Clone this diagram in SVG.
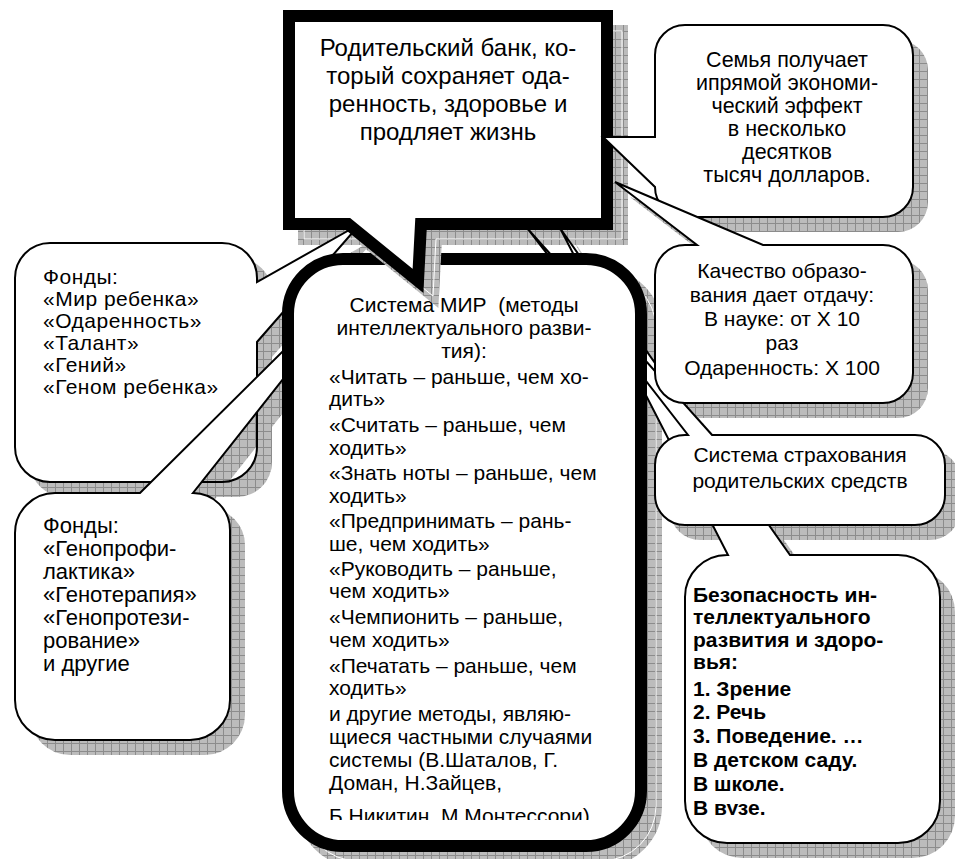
<svg xmlns="http://www.w3.org/2000/svg" width="955" height="859" viewBox="0 0 955 859">
<style>
.fw{fill:#fff;stroke:none}
.st{fill:none;stroke:#000;stroke-width:2}
.thin{fill:#fff;stroke:#000;stroke-width:2;stroke-linejoin:miter}
.thick{fill:#fff;stroke:#000;stroke-width:12;stroke-linejoin:miter}
.shd{fill:url(#sh);stroke:none}
.shdk{fill:url(#sh);stroke:url(#sh);stroke-width:12}
.wl{fill:none;stroke:#fff;stroke-width:1}
text{font-family:"Liberation Sans",Arial,sans-serif;font-size:21px;fill:#000}
.c{text-anchor:middle}
.b{font-weight:bold;font-size:21px}
.f1{font-size:21px;letter-spacing:0.5px}
.f22{font-size:22px}
.f215{font-size:21.5px}
.f24{font-size:24px}
</style>
<defs>
<pattern id="sh" width="8" height="8" patternUnits="userSpaceOnUse">
<rect width="8" height="8" fill="#bcbcbc"/>
<path d="M0 .5H8M.5 0V8" stroke="#8c8c8c" stroke-width="1"/>
</pattern>
<path id="pTop" d="M289,16 H607 V224 H421 L418,281 L348,224 H289 Z"/>
<rect id="pCen" x="288" y="259" width="353" height="587" rx="55"/>
<path id="pF1" d="M50,243 H222 A35,35 0 0 1 257,278 V282 L360,224 L257,342 V447 A35,35 0 0 1 222,482 H50 A35,35 0 0 1 15,447 V278 A35,35 0 0 1 50,243 Z"/>
<path id="pF2" d="M55,493 H140 L385,250 L193,493 A37,37 0 0 1 230,530 V700 A40,40 0 0 1 190,740 H55 A40,40 0 0 1 15,700 V533 A40,40 0 0 1 55,493 Z"/>
<path id="pBez" d="M727,555 H728 L560,228 L790,555 H898 A42,42 0 0 1 940,597 V801 A42,42 0 0 1 898,843 H727 A42,42 0 0 1 685,801 V597 A42,42 0 0 1 727,555 Z"/>
<path id="pSys" d="M685,435 H688 L527,228 L712,435 H915 A30,30 0 0 1 945,465 V495 A30,30 0 0 1 915,525 H685 A30,30 0 0 1 655,495 V465 A30,30 0 0 1 685,435 Z"/>
<path id="pKach" d="M685,245 H697 L615,182 L763,245 H883 A30,30 0 0 1 913,275 V373 A30,30 0 0 1 883,403 H685 A30,30 0 0 1 655,373 V275 A30,30 0 0 1 685,245 Z"/>
<path id="pSem" d="M685,25 H883 A30,30 0 0 1 913,55 V187 A30,30 0 0 1 883,217 H685 A30,30 0 0 1 655,187 L603,137 H655 V55 A30,30 0 0 1 685,25 Z"/>
<clipPath id="cbox"><rect x="282" y="253" width="365" height="599" rx="61"/></clipPath>
<clipPath id="ctext"><rect x="290" y="270" width="350" height="550"/></clipPath>
<clipPath id="btext"><rect x="686" y="570" width="250" height="245"/></clipPath>
</defs>
<rect width="955" height="859" fill="#fff"/>

<g id="shadows">
<use href="#pF1" transform="translate(15,15)" class="shd"/>
<use href="#pCen" transform="translate(15,15)" class="shdk"/>
<use href="#pCen" transform="translate(15,15)" class="wl"/>
<use href="#pTop" transform="translate(15,15)" class="shdk"/>
<use href="#pTop" transform="translate(15,15)" class="wl"/>
<use href="#pBez" transform="translate(15,15)" class="shd"/>
<use href="#pSys" transform="translate(15,15)" class="shd"/>
<use href="#pKach" transform="translate(15,15)" class="shd"/>
<use href="#pSem" transform="translate(15,15)" class="shd"/>
</g>

<g id="node-fondy1">
<use href="#pF1" class="fw"/>
<use href="#pF2" transform="translate(15,15)" class="shd"/>
<use href="#pF1" class="st"/>
<text class="f1" x="43" y="284">Фонды:</text>
<text class="f1" x="43" y="306">«Мир ребенка»</text>
<text class="f1" x="43" y="328">«Одаренность»</text>
<text class="f1" x="43" y="350">«Талант»</text>
<text class="f1" x="43" y="372">«Гений»</text>
<text class="f1" x="43" y="394">«Геном ребенка»</text>
</g>

<g id="node-fondy2">
<use href="#pF2" class="thin"/>
<text class="f22" x="43" y="533">Фонды:</text>
<text class="f22" x="43" y="556">«Генопрофи-</text>
<text class="f22" x="43" y="579">лактика»</text>
<text class="f22" x="43" y="602">«Генотерапия»</text>
<text class="f22" x="43" y="625">«Генопротези-</text>
<text class="f22" x="43" y="648">рование»</text>
<text class="f22" x="43" y="671">и другие</text>
</g>

<g id="node-bezopasnost">
<use href="#pBez" class="thin"/>
<g clip-path="url(#btext)">
<text class="b" x="693" y="602">Безопасность ин-</text>
<text class="b" x="693" y="624">теллектуального</text>
<text class="b" x="693" y="647">развития и здоро-</text>
<text class="b" x="693" y="669">вья:</text>
<text class="b" x="693" y="696">1. Зрение</text>
<text class="b" x="693" y="719">2. Речь</text>
<text class="b" x="693" y="743">3. Поведение. …</text>
<text class="b" x="693" y="767">В детском саду.</text>
<text class="b" x="693" y="791">В школе.</text>
<text class="b" x="693" y="815">В вузе.</text>
</g>
</g>

<g id="node-strahovanie">
<use href="#pSys" class="thin"/>
<text class="c" x="800" y="462">Система страхования</text>
<text class="c" x="800" y="488">родительских средств</text>
</g>

<g id="node-mir">
<use href="#pCen" class="thick"/>
<g clip-path="url(#ctext)">
<text class="c" x="464" y="312" xml:space="preserve">Система МИР  (методы</text>
<text class="c" x="464" y="335">интеллектуального разви-</text>
<text class="c" x="464" y="358">тия):</text>
<text x="329" y="384">«Читать – раньше, чем хо-</text>
<text x="329" y="406">дить»</text>
<text x="329" y="432">«Считать – раньше, чем</text>
<text x="329" y="455">ходить»</text>
<text x="329" y="480">«Знать ноты – раньше, чем</text>
<text x="329" y="503">ходить»</text>
<text x="329" y="528">«Предпринимать – рань-</text>
<text x="329" y="551">ше, чем ходить»</text>
<text x="329" y="576">«Руководить – раньше,</text>
<text x="329" y="598">чем ходить»</text>
<text x="329" y="624">«Чемпионить – раньше,</text>
<text x="329" y="647">чем ходить»</text>
<text x="329" y="673">«Печатать – раньше, чем</text>
<text x="329" y="695">ходить»</text>
<text x="329" y="721">и другие методы, являю-</text>
<text x="329" y="744">щиеся частными случаями</text>
<text x="329" y="767">системы (В.Шаталов, Г.</text>
<text x="329" y="790">Доман, Н.Зайцев,</text>
<text x="329" y="823">Б.Никитин, М.Монтессори)</text>
</g>
<g clip-path="url(#cbox)">
<use href="#pTop" transform="translate(15,15)" class="shdk"/>
<use href="#pTop" transform="translate(15,15)" class="wl"/>
</g>
</g>

<g id="node-bank">
<use href="#pTop" class="thick"/>
<text class="c f24" x="448" y="56">Родительский банк, ко-</text>
<text class="c f24" x="448" y="84">торый сохраняет ода-</text>
<text class="c f24" x="448" y="112">ренность, здоровье и</text>
<text class="c f24" x="448" y="140">продляет жизнь</text>
</g>

<g id="node-semya">
<use href="#pSem" class="thin"/>
<text class="c f215" x="787" y="67">Семья получает</text>
<text class="c f215" x="787" y="90">ипрямой экономи-</text>
<text class="c f215" x="787" y="113">ческий эффект</text>
<text class="c f215" x="787" y="136">в несколько</text>
<text class="c f215" x="787" y="159">десятков</text>
<text class="c f215" x="787" y="182">тысяч долларов.</text>
</g>

<g id="node-kachestvo">
<use href="#pKach" class="thin"/>
<text class="c" x="782" y="278">Качество образо-</text>
<text class="c" x="782" y="302">вания дает отдачу:</text>
<text class="c" x="782" y="326">В науке: от X 10</text>
<text class="c" x="782" y="350">раз</text>
<text class="c" x="782" y="375">Одаренность: X 100</text>
</g>
</svg>
